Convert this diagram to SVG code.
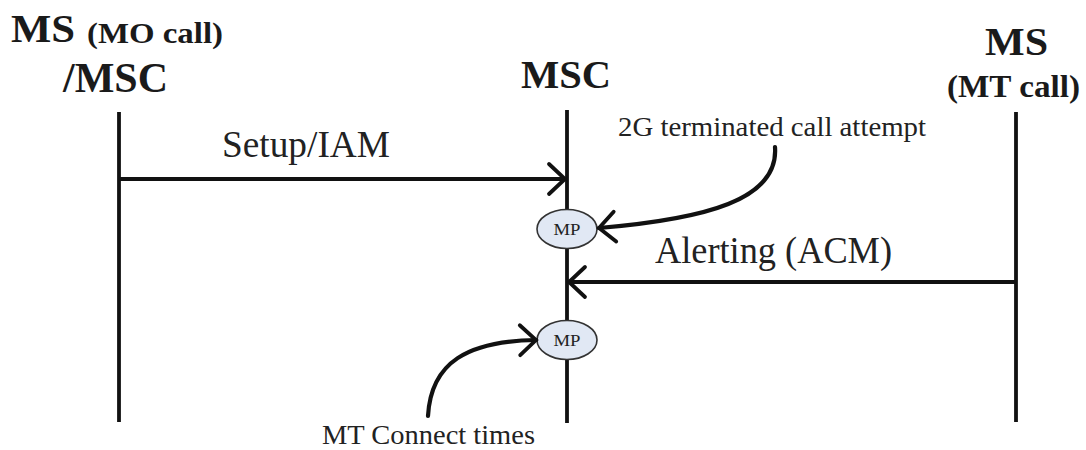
<svg xmlns="http://www.w3.org/2000/svg" width="1086" height="450" viewBox="0 0 1086 450">
  <style>
    .hdr { font-family: "Liberation Serif", "Times New Roman", serif; font-weight: bold; fill: #1a1a1a; }
    .lbl { font-family: "Liberation Serif", "Times New Roman", serif; fill: #222; }
    .life { stroke: #111; stroke-width: 3.8; fill: none; }
    .msg { stroke: #111; stroke-width: 3.8; fill: none; marker-end: url(#vhead); }
    .note { stroke: #111; stroke-width: 4.2; fill: none; stroke-linecap: round; marker-end: url(#vhead); }
    .mp { fill: #e1e8f4; stroke: #333; stroke-width: 1.6; }
    .mptxt { font-family: "Liberation Serif", "Times New Roman", serif; font-size: 17px; fill: #222; text-anchor: middle; }
  </style>
  <defs>
    <marker id="vhead" markerUnits="userSpaceOnUse" markerWidth="40" markerHeight="40" viewBox="-20 -20 40 40" refX="0" refY="0" orient="auto" overflow="visible">
      <path d="M-16,-15 L0,0 L-16,15" fill="none" stroke="#111" stroke-width="3.8" stroke-linecap="round" stroke-linejoin="miter"/>
    </marker>
  </defs>

  <rect width="1086" height="450" fill="#ffffff"/>

  <!-- participant headers and lifelines -->
  <g id="ms-mo">
    <text class="hdr" x="11" y="42" font-size="41" textLength="64" lengthAdjust="spacingAndGlyphs">MS</text>
    <text class="hdr" x="87" y="43" font-size="30" textLength="136" lengthAdjust="spacingAndGlyphs">(MO call)</text>
    <text class="hdr" x="63" y="92" font-size="42" textLength="105" lengthAdjust="spacingAndGlyphs">/MSC</text>
    <line class="life" x1="119" y1="112" x2="119" y2="422"/>
  </g>
  <g id="msc">
    <text class="hdr" x="521" y="88" font-size="41" textLength="90" lengthAdjust="spacingAndGlyphs">MSC</text>
    <line class="life" x1="567" y1="110" x2="567" y2="423"/>
  </g>
  <g id="ms-mt">
    <text class="hdr" x="985" y="55" font-size="41" textLength="63" lengthAdjust="spacingAndGlyphs">MS</text>
    <text class="hdr" x="947" y="97" font-size="31" textLength="133" lengthAdjust="spacingAndGlyphs">(MT call)</text>
    <line class="life" x1="1016" y1="112" x2="1016" y2="422"/>
  </g>

  <!-- measurement points on the MSC lifeline -->
  <g id="mp1">
    <ellipse class="mp" cx="567" cy="229" rx="30" ry="19.5"/>
    <text class="mptxt" x="567" y="235" textLength="27" lengthAdjust="spacingAndGlyphs">MP</text>
  </g>
  <g id="mp2">
    <ellipse class="mp" cx="567" cy="340" rx="30" ry="19.5"/>
    <text class="mptxt" x="567" y="346" textLength="27" lengthAdjust="spacingAndGlyphs">MP</text>
  </g>

  <!-- annotation texts -->
  <g id="note-2g">
    <text class="lbl" x="618" y="136" font-size="28" textLength="308" lengthAdjust="spacingAndGlyphs">2G terminated call attempt</text>
  </g>
  <g id="note-connect">
    <text class="lbl" x="322" y="444" font-size="27" textLength="213" lengthAdjust="spacingAndGlyphs">MT Connect times</text>
  </g>

  <!-- messages and annotation pointers -->
  <g id="connectors">
    <line class="msg" x1="119" y1="179" x2="565" y2="179"/>
    <text class="lbl" x="222" y="157" font-size="37" textLength="168" lengthAdjust="spacingAndGlyphs">Setup/IAM</text>

    <line class="msg" x1="1016" y1="282" x2="569" y2="282"/>
    <text class="lbl" x="655" y="263" font-size="37" textLength="237" lengthAdjust="spacingAndGlyphs">Alerting (ACM)</text>

    <path class="note" d="M775,147 C779,200 705,219 599,228"/>
    <path class="note" d="M428,416 C431,362 468,341 536,340"/>
  </g>
</svg>
